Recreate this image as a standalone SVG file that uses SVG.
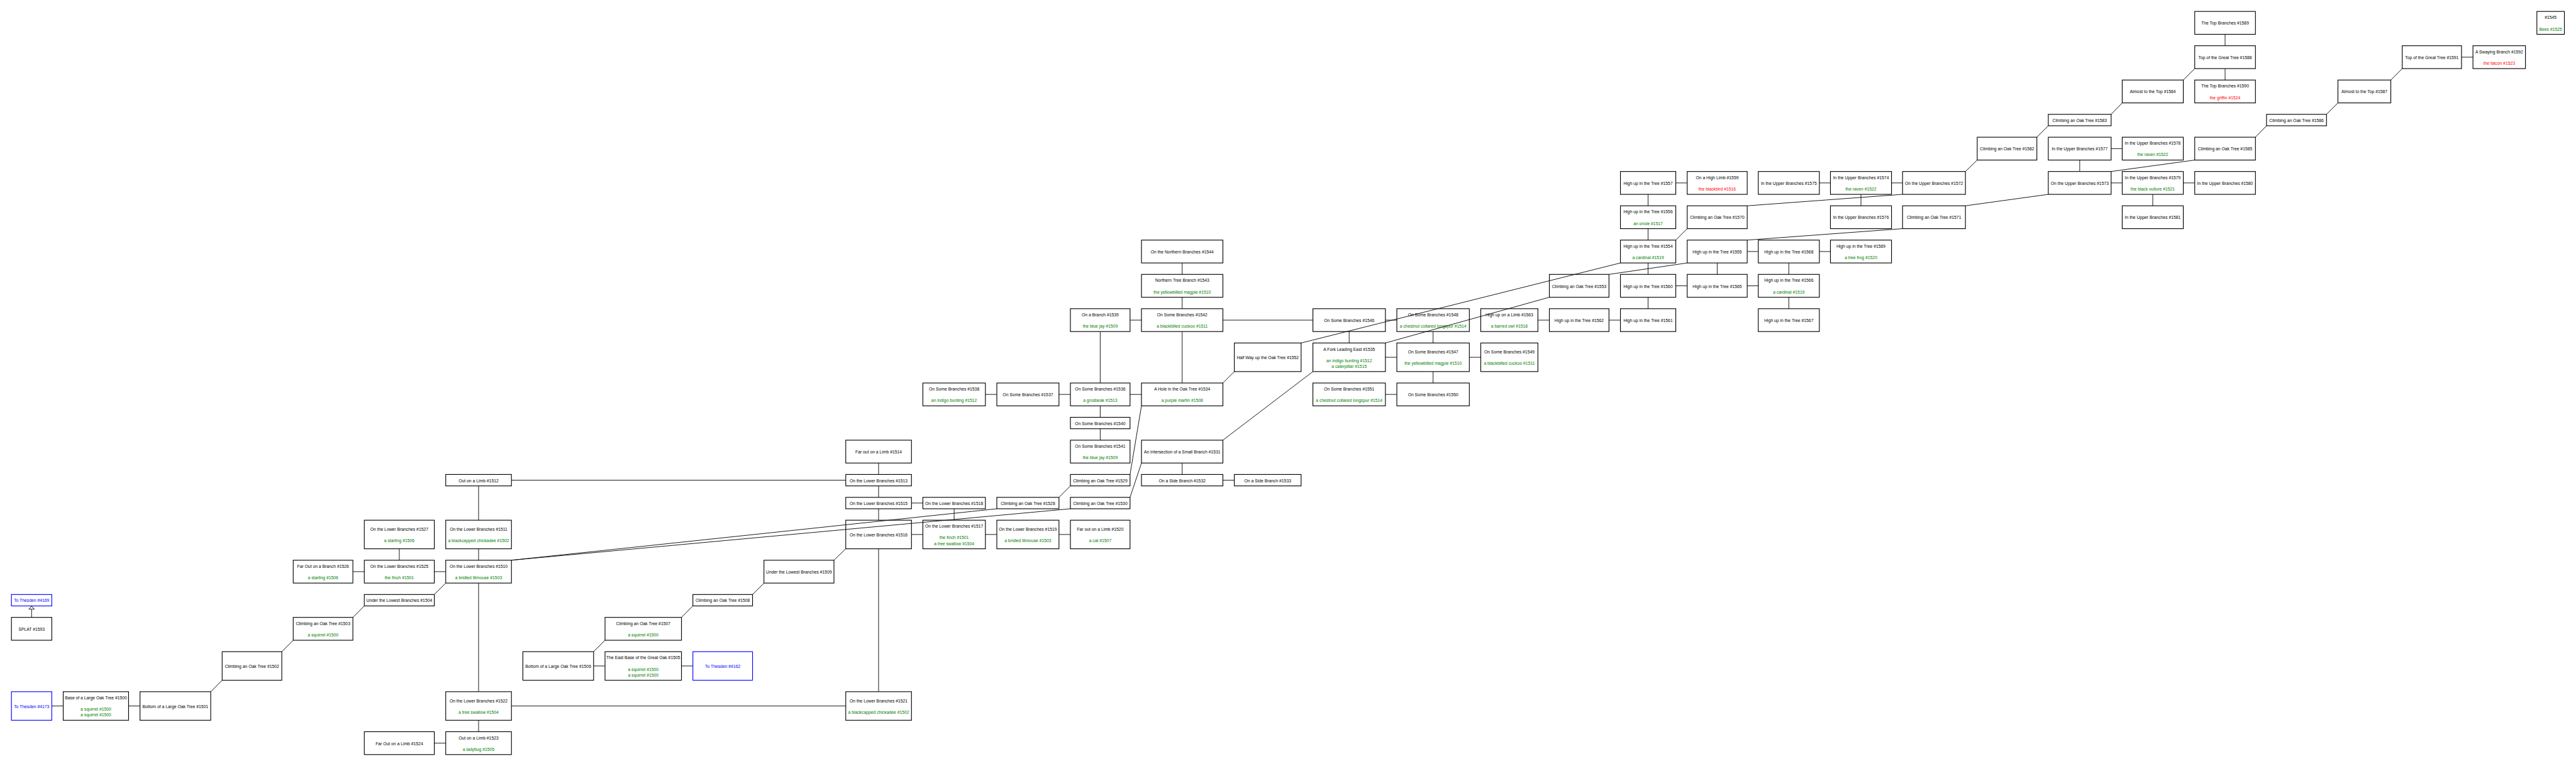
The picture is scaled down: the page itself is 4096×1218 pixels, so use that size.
<svg xmlns="http://www.w3.org/2000/svg" width="4096" height="1218" viewBox="0 0 4096 1218">
<style>
.node rect{fill:#fff;stroke:#000;stroke-width:2}
.exit rect{stroke:#00f}
text{font-family:"Liberation Sans",Arial,sans-serif;font-size:12px;text-anchor:middle;dominant-baseline:central}
.t{fill:#000}.g{fill:#008000}.r{fill:#f00}.x{fill:#00f}
#edges line{stroke:#000;stroke-width:1.6;fill:none}
</style>
<defs>
<marker id="hollow" viewBox="0 0 9 17" refX="0" refY="8.5" markerWidth="9" markerHeight="17" markerUnits="userSpaceOnUse" orient="auto">
<path d="M0,0.8 L8.6,8.5 L0,16.2 Z" fill="#fff" stroke="#000" stroke-width="1.6"/>
</marker>
</defs>
<rect width="4096" height="1218" fill="#fff"/>
<g transform="scale(0.5679,0.5681)">
<g id="nodes">
<g id="n1589" class="node"><rect x="6145" y="32" width="170" height="64"/><text class="t" x="6230" y="65">The Top Branches #1589</text></g>
<g id="n1545" class="node"><rect x="7103" y="32" width="77" height="64"/><text class="t" x="7141.5" y="49">#1545</text><text class="g" x="7141.5" y="81">Bees #1525</text></g>
<g id="n1588" class="node"><rect x="6145" y="128" width="170" height="64"/><text class="t" x="6230" y="161">Top of the Great Tree #1588</text></g>
<g id="n1591" class="node"><rect x="6726" y="128" width="166" height="64"/><text class="t" x="6809" y="161">Top of the Great Tree #1591</text></g>
<g id="n1592" class="node"><rect x="6924" y="128" width="147" height="64"/><text class="t" x="6997.5" y="145">A Swaying Branch #1592</text><text class="r" x="6997.5" y="177">the falcon #1523</text></g>
<g id="n1584" class="node"><rect x="5942" y="224" width="171" height="64"/><text class="t" x="6027.5" y="257">Almost to the Top #1584</text></g>
<g id="n1590" class="node"><rect x="6145" y="224" width="170" height="64"/><text class="t" x="6230" y="241">The Top Branches #1590</text><text class="r" x="6230" y="273">the griffin #1524</text></g>
<g id="n1587" class="node"><rect x="6546" y="224" width="148" height="64"/><text class="t" x="6620" y="257">Almost to the Top #1587</text></g>
<g id="n1583" class="node"><rect x="5735" y="320" width="176" height="32"/><text class="t" x="5823" y="337">Climbing an Oak Tree #1583</text></g>
<g id="n1586" class="node"><rect x="6346" y="320" width="168" height="32"/><text class="t" x="6430" y="337">Climbing an Oak Tree #1586</text></g>
<g id="n1582" class="node"><rect x="5536" y="384" width="167" height="64"/><text class="t" x="5619.5" y="417">Climbing an Oak Tree #1582</text></g>
<g id="n1577" class="node"><rect x="5735" y="384" width="176" height="64"/><text class="t" x="5823" y="417">In the Upper Branches #1577</text></g>
<g id="n1578" class="node"><rect x="5942" y="384" width="171" height="64"/><text class="t" x="6027.5" y="401">In the Upper Branches #1578</text><text class="g" x="6027.5" y="433">the raven #1522</text></g>
<g id="n1585" class="node"><rect x="6145" y="384" width="170" height="64"/><text class="t" x="6230" y="417">Climbing an Oak Tree #1585</text></g>
<g id="n1557" class="node"><rect x="4537" y="480" width="155" height="64"/><text class="t" x="4614.5" y="513">High up in the Tree #1557</text></g>
<g id="n1559" class="node"><rect x="4724" y="480" width="168" height="64"/><text class="t" x="4808" y="497">On a High Limb #1559</text><text class="r" x="4808" y="529">the blackbird #1516</text></g>
<g id="n1575" class="node"><rect x="4923" y="480" width="171" height="64"/><text class="t" x="5008.5" y="513">In the Upper Branches #1575</text></g>
<g id="n1574" class="node"><rect x="5125" y="480" width="171" height="64"/><text class="t" x="5210.5" y="497">In the Upper Branches #1574</text><text class="g" x="5210.5" y="529">the raven #1522</text></g>
<g id="n1572" class="node"><rect x="5327" y="480" width="176" height="64"/><text class="t" x="5415" y="513">On the Upper Branches #1572</text></g>
<g id="n1573" class="node"><rect x="5735" y="480" width="176" height="64"/><text class="t" x="5823" y="513">On the Upper Branches #1573</text></g>
<g id="n1579" class="node"><rect x="5942" y="480" width="171" height="64"/><text class="t" x="6027.5" y="497">In the Upper Branches #1579</text><text class="g" x="6027.5" y="529">the black vulture #1521</text></g>
<g id="n1580" class="node"><rect x="6145" y="480" width="170" height="64"/><text class="t" x="6230" y="513">In the Upper Branches #1580</text></g>
<g id="n1556" class="node"><rect x="4537" y="576" width="155" height="64"/><text class="t" x="4614.5" y="593">High up in the Tree #1556</text><text class="g" x="4614.5" y="625">an oriole #1517</text></g>
<g id="n1570" class="node"><rect x="4724" y="576" width="168" height="64"/><text class="t" x="4808" y="609">Climbing an Oak Tree #1570</text></g>
<g id="n1576" class="node"><rect x="5125" y="576" width="171" height="64"/><text class="t" x="5210.5" y="609">In the Upper Branches #1576</text></g>
<g id="n1571" class="node"><rect x="5327" y="576" width="176" height="64"/><text class="t" x="5415" y="609">Climbing an Oak Tree #1571</text></g>
<g id="n1581" class="node"><rect x="5942" y="576" width="171" height="64"/><text class="t" x="6027.5" y="609">In the Upper Branches #1581</text></g>
<g id="n1544" class="node"><rect x="3196" y="672" width="228" height="64"/><text class="t" x="3310" y="705">On the Northern Branches #1544</text></g>
<g id="n1554" class="node"><rect x="4537" y="672" width="155" height="64"/><text class="t" x="4614.5" y="689">High up in the Tree #1554</text><text class="g" x="4614.5" y="721">a cardinal #1519</text></g>
<g id="n1555" class="node"><rect x="4724" y="672" width="168" height="64"/><text class="t" x="4808" y="705">High up in the Tree #1555</text></g>
<g id="n1568" class="node"><rect x="4923" y="672" width="171" height="64"/><text class="t" x="5008.5" y="705">High up in the Tree #1568</text></g>
<g id="n1569" class="node"><rect x="5125" y="672" width="171" height="64"/><text class="t" x="5210.5" y="689">High up in the Tree #1569</text><text class="g" x="5210.5" y="721">a tree frog #1520</text></g>
<g id="n1543" class="node"><rect x="3196" y="768" width="228" height="64"/><text class="t" x="3310" y="785">Northern Tree Branch #1543</text><text class="g" x="3310" y="817">the yellowbilled magpie #1510</text></g>
<g id="n1553" class="node"><rect x="4338" y="768" width="167" height="64"/><text class="t" x="4421.5" y="801">Climbing an Oak Tree #1553</text></g>
<g id="n1560" class="node"><rect x="4537" y="768" width="155" height="64"/><text class="t" x="4614.5" y="801">High up in the Tree #1560</text></g>
<g id="n1565" class="node"><rect x="4724" y="768" width="168" height="64"/><text class="t" x="4808" y="801">High up in the Tree #1565</text></g>
<g id="n1566" class="node"><rect x="4923" y="768" width="171" height="64"/><text class="t" x="5008.5" y="785">High up in the Tree #1566</text><text class="g" x="5008.5" y="817">a cardinal #1519</text></g>
<g id="n1539" class="node"><rect x="2997" y="864" width="167" height="64"/><text class="t" x="3080.5" y="881">On a Branch #1539</text><text class="g" x="3080.5" y="913">the blue jay #1509</text></g>
<g id="n1542" class="node"><rect x="3196" y="864" width="228" height="64"/><text class="t" x="3310" y="881">On Some Branches #1542</text><text class="g" x="3310" y="913">a blackbilled cuckoo #1511</text></g>
<g id="n1546" class="node"><rect x="3676" y="864" width="203" height="64"/><text class="t" x="3777.5" y="897">On Some Branches #1546</text></g>
<g id="n1548" class="node"><rect x="3911" y="864" width="203" height="64"/><text class="t" x="4012.5" y="881">On Some Branches #1548</text><text class="g" x="4012.5" y="913">a chestnut collared longspur #1514</text></g>
<g id="n1563" class="node"><rect x="4146" y="864" width="160" height="64"/><text class="t" x="4226" y="881">High up on a Limb #1563</text><text class="g" x="4226" y="913">a barred owl #1518</text></g>
<g id="n1562" class="node"><rect x="4338" y="864" width="167" height="64"/><text class="t" x="4421.5" y="897">High up in the Tree #1562</text></g>
<g id="n1561" class="node"><rect x="4537" y="864" width="155" height="64"/><text class="t" x="4614.5" y="897">High up in the Tree #1561</text></g>
<g id="n1567" class="node"><rect x="4923" y="864" width="171" height="64"/><text class="t" x="5008.5" y="897">High up in the Tree #1567</text></g>
<g id="n1552" class="node"><rect x="3456" y="960" width="187" height="80"/><text class="t" x="3549.5" y="1001">Half Way up the Oak Tree #1552</text></g>
<g id="n1535" class="node"><rect x="3676" y="960" width="203" height="80"/><text class="t" x="3777.5" y="977">A Fork Leading East #1535</text><text class="g" x="3777.5" y="1009">an indigo bunting #1512</text><text class="g" x="3777.5" y="1025">a caterpillar #1515</text></g>
<g id="n1547" class="node"><rect x="3911" y="960" width="203" height="80"/><text class="t" x="4012.5" y="985">On Some Branches #1547</text><text class="g" x="4012.5" y="1017">the yellowbilled magpie #1510</text></g>
<g id="n1549" class="node"><rect x="4146" y="960" width="160" height="80"/><text class="t" x="4226" y="985">On Some Branches #1549</text><text class="g" x="4226" y="1017">a blackbilled cuckoo #1511</text></g>
<g id="n1538" class="node"><rect x="2584" y="1072" width="175" height="64"/><text class="t" x="2671.5" y="1089">On Some Branches #1538</text><text class="g" x="2671.5" y="1121">an indigo bunting #1512</text></g>
<g id="n1537" class="node"><rect x="2791" y="1072" width="174" height="64"/><text class="t" x="2878" y="1105">On Some Branches #1537</text></g>
<g id="n1536" class="node"><rect x="2997" y="1072" width="167" height="64"/><text class="t" x="3080.5" y="1089">On Some Branches #1536</text><text class="g" x="3080.5" y="1121">a grosbeak #1513</text></g>
<g id="n1534" class="node"><rect x="3196" y="1072" width="228" height="64"/><text class="t" x="3310" y="1089">A Hole in the Oak Tree #1534</text><text class="g" x="3310" y="1121">a purple martin #1508</text></g>
<g id="n1551" class="node"><rect x="3676" y="1072" width="203" height="64"/><text class="t" x="3777.5" y="1089">On Some Branches #1551</text><text class="g" x="3777.5" y="1121">a chestnut collared longspur #1514</text></g>
<g id="n1550" class="node"><rect x="3911" y="1072" width="203" height="64"/><text class="t" x="4012.5" y="1105">On Some Branches #1550</text></g>
<g id="n1540" class="node"><rect x="2997" y="1168" width="167" height="32"/><text class="t" x="3080.5" y="1185">On Some Branches #1540</text></g>
<g id="n1514" class="node"><rect x="2368" y="1232" width="184" height="64"/><text class="t" x="2460" y="1265">Far out on a Limb #1514</text></g>
<g id="n1541" class="node"><rect x="2997" y="1232" width="167" height="64"/><text class="t" x="3080.5" y="1249">On Some Branches #1541</text><text class="g" x="3080.5" y="1281">the blue jay #1509</text></g>
<g id="n1531" class="node"><rect x="3196" y="1232" width="228" height="64"/><text class="t" x="3310" y="1265">An Intersection of a Small Branch #1531</text></g>
<g id="n1512" class="node"><rect x="1248" y="1328" width="184" height="32"/><text class="t" x="1340" y="1345">Out on a Limb #1512</text></g>
<g id="n1513" class="node"><rect x="2368" y="1328" width="184" height="32"/><text class="t" x="2460" y="1345">On the Lower Branches #1513</text></g>
<g id="n1529" class="node"><rect x="2997" y="1328" width="167" height="32"/><text class="t" x="3080.5" y="1345">Climbing an Oak Tree #1529</text></g>
<g id="n1532" class="node"><rect x="3196" y="1328" width="228" height="32"/><text class="t" x="3310" y="1345">On a Side Branch #1532</text></g>
<g id="n1533" class="node"><rect x="3456" y="1328" width="187" height="32"/><text class="t" x="3549.5" y="1345">On a Side Branch #1533</text></g>
<g id="n1515" class="node"><rect x="2368" y="1392" width="184" height="32"/><text class="t" x="2460" y="1409">On the Lower Branches #1515</text></g>
<g id="n1518" class="node"><rect x="2584" y="1392" width="175" height="32"/><text class="t" x="2671.5" y="1409">On the Lower Branches #1518</text></g>
<g id="n1528" class="node"><rect x="2791" y="1392" width="174" height="32"/><text class="t" x="2878" y="1409">Climbing an Oak Tree #1528</text></g>
<g id="n1530" class="node"><rect x="2997" y="1392" width="167" height="32"/><text class="t" x="3080.5" y="1409">Climbing an Oak Tree #1530</text></g>
<g id="n1527" class="node"><rect x="1020" y="1456" width="196" height="80"/><text class="t" x="1118" y="1481">On the Lower Branches #1527</text><text class="g" x="1118" y="1513">a starling #1506</text></g>
<g id="n1511" class="node"><rect x="1248" y="1456" width="184" height="80"/><text class="t" x="1340" y="1481">On the Lower Branches #1511</text><text class="g" x="1340" y="1513">a blackcapped chickadee #1502</text></g>
<g id="n1516" class="node"><rect x="2368" y="1456" width="184" height="80"/><text class="t" x="2460" y="1497">On the Lower Branches #1516</text></g>
<g id="n1517" class="node"><rect x="2584" y="1456" width="175" height="80"/><text class="t" x="2671.5" y="1473">On the Lower Branches #1517</text><text class="g" x="2671.5" y="1505">the finch #1501</text><text class="g" x="2671.5" y="1521">a tree swallow #1504</text></g>
<g id="n1519" class="node"><rect x="2791" y="1456" width="174" height="80"/><text class="t" x="2878" y="1481">On the Lower Branches #1519</text><text class="g" x="2878" y="1513">a bridled titmouse #1503</text></g>
<g id="n1520" class="node"><rect x="2997" y="1456" width="167" height="80"/><text class="t" x="3080.5" y="1481">Far out on a Limb #1520</text><text class="g" x="3080.5" y="1513">a cat #1507</text></g>
<g id="n1526" class="node"><rect x="821" y="1568" width="167" height="64"/><text class="t" x="904.5" y="1585">Far Out on a Branch #1526</text><text class="g" x="904.5" y="1617">a starling #1506</text></g>
<g id="n1525" class="node"><rect x="1020" y="1568" width="196" height="64"/><text class="t" x="1118" y="1585">On the Lower Branches #1525</text><text class="g" x="1118" y="1617">the finch #1501</text></g>
<g id="n1510" class="node"><rect x="1248" y="1568" width="184" height="64"/><text class="t" x="1340" y="1585">On the Lower Branches #1510</text><text class="g" x="1340" y="1617">a bridled titmouse #1503</text></g>
<g id="n1509" class="node"><rect x="2139" y="1568" width="196" height="64"/><text class="t" x="2237" y="1601">Under the Lowest Branches #1509</text></g>
<g id="n4169" class="node exit"><rect x="32" y="1664" width="113" height="32"/><text class="x" x="88.5" y="1681">To Thesden #4169</text></g>
<g id="n1504" class="node"><rect x="1020" y="1664" width="196" height="32"/><text class="t" x="1118" y="1681">Under the Lowest Branches #1504</text></g>
<g id="n1508" class="node"><rect x="1940" y="1664" width="167" height="32"/><text class="t" x="2023.5" y="1681">Climbing an Oak Tree #1508</text></g>
<g id="n1593" class="node"><rect x="32" y="1728" width="113" height="64"/><text class="t" x="88.5" y="1761">SPLAT #1593</text></g>
<g id="n1503" class="node"><rect x="821" y="1728" width="167" height="64"/><text class="t" x="904.5" y="1745">Climbing an Oak Tree #1503</text><text class="g" x="904.5" y="1777">a squirrel #1500</text></g>
<g id="n1507" class="node"><rect x="1694" y="1728" width="214" height="64"/><text class="t" x="1801" y="1745">Climbing an Oak Tree #1507</text><text class="g" x="1801" y="1777">a squirrel #1500</text></g>
<g id="n1502" class="node"><rect x="622" y="1824" width="167" height="80"/><text class="t" x="705.5" y="1865">Climbing an Oak Tree #1502</text></g>
<g id="n1506" class="node"><rect x="1464" y="1824" width="198" height="80"/><text class="t" x="1563" y="1865">Bottom of a Large Oak Tree #1506</text></g>
<g id="n1505" class="node"><rect x="1694" y="1824" width="214" height="80"/><text class="t" x="1801" y="1841">The East Base of the Great Oak #1505</text><text class="g" x="1801" y="1873">a squirrel #1500</text><text class="g" x="1801" y="1889">a squirrel #1500</text></g>
<g id="n4162" class="node exit"><rect x="1940" y="1824" width="167" height="80"/><text class="x" x="2023.5" y="1865">To Thesden #4162</text></g>
<g id="n4173" class="node exit"><rect x="32" y="1936" width="113" height="80"/><text class="x" x="88.5" y="1977">To Thesden #4173</text></g>
<g id="n1500" class="node"><rect x="177" y="1936" width="183" height="80"/><text class="t" x="268.5" y="1953">Base of a Large Oak Tree #1500</text><text class="g" x="268.5" y="1985">a squirrel #1500</text><text class="g" x="268.5" y="2001">a squirrel #1500</text></g>
<g id="n1501" class="node"><rect x="392" y="1936" width="198" height="80"/><text class="t" x="491" y="1977">Bottom of a Large Oak Tree #1501</text></g>
<g id="n1522" class="node"><rect x="1248" y="1936" width="184" height="80"/><text class="t" x="1340" y="1961">On the Lower Branches #1522</text><text class="g" x="1340" y="1993">a tree swallow #1504</text></g>
<g id="n1521" class="node"><rect x="2368" y="1936" width="184" height="80"/><text class="t" x="2460" y="1961">On the Lower Branches #1521</text><text class="g" x="2460" y="1993">a blackcapped chickadee #1502</text></g>
<g id="n1524" class="node"><rect x="1020" y="2048" width="196" height="64"/><text class="t" x="1118" y="2081">Far Out on a Limb #1524</text></g>
<g id="n1523" class="node"><rect x="1248" y="2048" width="184" height="64"/><text class="t" x="1340" y="2065">Out on a Limb #1523</text><text class="g" x="1340" y="2097">a ladybug #1505</text></g>
</g>
<g id="edges">
<line x1="88.5" y1="1728" x2="88.5" y2="1705" marker-end="url(#hollow)"/>
<line x1="145" y1="1976" x2="177" y2="1976"/>
<line x1="360" y1="1976" x2="392" y2="1976"/>
<line x1="590" y1="1936" x2="622" y2="1904"/>
<line x1="789" y1="1824" x2="821" y2="1792"/>
<line x1="988" y1="1728" x2="1020" y2="1696"/>
<line x1="1216" y1="1664" x2="1248" y2="1632"/>
<line x1="988" y1="1600" x2="1020" y2="1600"/>
<line x1="1216" y1="1600" x2="1248" y2="1600"/>
<line x1="1118" y1="1536" x2="1118" y2="1568"/>
<line x1="1340" y1="1536" x2="1340" y2="1568"/>
<line x1="1340" y1="1360" x2="1340" y2="1456"/>
<line x1="1432" y1="1344" x2="2368" y2="1344"/>
<line x1="1340" y1="1632" x2="1340" y2="1936"/>
<line x1="1340" y1="2016" x2="1340" y2="2048"/>
<line x1="1216" y1="2080" x2="1248" y2="2080"/>
<line x1="1432" y1="1976" x2="2368" y2="1976"/>
<line x1="1432" y1="1568" x2="2791" y2="1424"/>
<line x1="1432" y1="1568" x2="2997" y2="1424"/>
<line x1="1662" y1="1864" x2="1694" y2="1864"/>
<line x1="1908" y1="1864" x2="1940" y2="1864"/>
<line x1="1662" y1="1824" x2="1694" y2="1792"/>
<line x1="1908" y1="1728" x2="1940" y2="1696"/>
<line x1="2107" y1="1664" x2="2139" y2="1632"/>
<line x1="2335" y1="1568" x2="2368" y2="1536"/>
<line x1="2460" y1="1296" x2="2460" y2="1328"/>
<line x1="2460" y1="1360" x2="2460" y2="1392"/>
<line x1="2460" y1="1424" x2="2460" y2="1456"/>
<line x1="2460" y1="1536" x2="2460" y2="1936"/>
<line x1="2552" y1="1408" x2="2584" y2="1408"/>
<line x1="2671.5" y1="1424" x2="2671.5" y2="1456"/>
<line x1="2552" y1="1496" x2="2584" y2="1496"/>
<line x1="2759" y1="1496" x2="2791" y2="1496"/>
<line x1="2965" y1="1496" x2="2997" y2="1496"/>
<line x1="2965" y1="1392" x2="2997" y2="1360"/>
<line x1="3164" y1="1328" x2="3196" y2="1136"/>
<line x1="3164" y1="1392" x2="3196" y2="1296"/>
<line x1="3310" y1="1296" x2="3310" y2="1328"/>
<line x1="3424" y1="1344" x2="3456" y2="1344"/>
<line x1="3424" y1="1232" x2="3676" y2="1040"/>
<line x1="3080.5" y1="1200" x2="3080.5" y2="1232"/>
<line x1="3080.5" y1="1136" x2="3080.5" y2="1168"/>
<line x1="2759" y1="1104" x2="2791" y2="1104"/>
<line x1="2965" y1="1104" x2="2997" y2="1104"/>
<line x1="3164" y1="1104" x2="3196" y2="1104"/>
<line x1="3080.5" y1="928" x2="3080.5" y2="1072"/>
<line x1="3164" y1="896" x2="3196" y2="896"/>
<line x1="3310" y1="928" x2="3310" y2="1072"/>
<line x1="3310" y1="832" x2="3310" y2="864"/>
<line x1="3310" y1="736" x2="3310" y2="768"/>
<line x1="3424" y1="896" x2="3676" y2="896"/>
<line x1="3424" y1="1072" x2="3456" y2="1040"/>
<line x1="3643" y1="960" x2="4537" y2="736"/>
<line x1="3879" y1="960" x2="4338" y2="832"/>
<line x1="3879" y1="896" x2="3911" y2="896"/>
<line x1="3777.5" y1="928" x2="3777.5" y2="960"/>
<line x1="4012.5" y1="928" x2="4012.5" y2="960"/>
<line x1="3879" y1="1000" x2="3911" y2="1000"/>
<line x1="4114" y1="1000" x2="4146" y2="1000"/>
<line x1="4012.5" y1="1040" x2="4012.5" y2="1072"/>
<line x1="3879" y1="1104" x2="3911" y2="1104"/>
<line x1="4306" y1="896" x2="4338" y2="896"/>
<line x1="4505" y1="896" x2="4537" y2="896"/>
<line x1="4614.5" y1="832" x2="4614.5" y2="864"/>
<line x1="4614.5" y1="736" x2="4614.5" y2="768"/>
<line x1="4614.5" y1="640" x2="4614.5" y2="672"/>
<line x1="4614.5" y1="544" x2="4614.5" y2="576"/>
<line x1="4692" y1="512" x2="4724" y2="512"/>
<line x1="4505" y1="768" x2="4724" y2="736"/>
<line x1="4724" y1="640" x2="4692" y2="672"/>
<line x1="4692" y1="800" x2="4724" y2="800"/>
<line x1="4892" y1="800" x2="4923" y2="800"/>
<line x1="4808" y1="736" x2="4808" y2="768"/>
<line x1="4892" y1="704" x2="4923" y2="704"/>
<line x1="5094" y1="704" x2="5125" y2="704"/>
<line x1="5008.5" y1="736" x2="5008.5" y2="768"/>
<line x1="5008.5" y1="832" x2="5008.5" y2="864"/>
<line x1="5094" y1="512" x2="5125" y2="512"/>
<line x1="5296" y1="512" x2="5327" y2="512"/>
<line x1="5210.5" y1="544" x2="5210.5" y2="576"/>
<line x1="5327" y1="544" x2="4892" y2="576"/>
<line x1="5327" y1="640" x2="4892" y2="672"/>
<line x1="5503" y1="480" x2="5536" y2="448"/>
<line x1="5503" y1="576" x2="5735" y2="544"/>
<line x1="5703" y1="384" x2="5735" y2="352"/>
<line x1="5911" y1="320" x2="5942" y2="288"/>
<line x1="6113" y1="224" x2="6145" y2="192"/>
<line x1="6230" y1="96" x2="6230" y2="128"/>
<line x1="6230" y1="192" x2="6230" y2="224"/>
<line x1="5911" y1="416" x2="5942" y2="416"/>
<line x1="5823" y1="448" x2="5823" y2="480"/>
<line x1="5911" y1="512" x2="5942" y2="512"/>
<line x1="6113" y1="512" x2="6145" y2="512"/>
<line x1="6027.5" y1="544" x2="6027.5" y2="576"/>
<line x1="5911" y1="480" x2="6145" y2="448"/>
<line x1="6315" y1="384" x2="6346" y2="352"/>
<line x1="6514" y1="320" x2="6546" y2="288"/>
<line x1="6694" y1="224" x2="6726" y2="192"/>
<line x1="6892" y1="160" x2="6924" y2="160"/>
</g>
</g>
</svg>
